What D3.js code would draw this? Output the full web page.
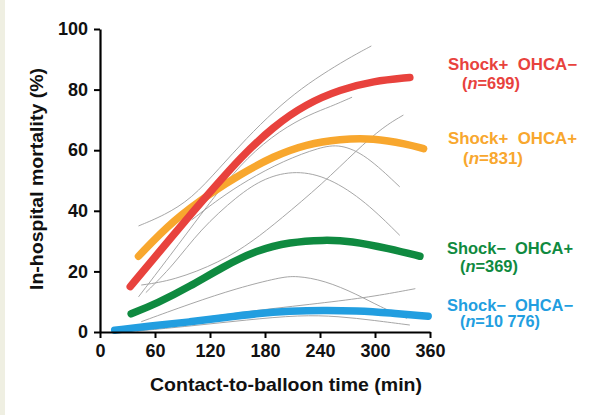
<!DOCTYPE html>
<html><head><meta charset="utf-8">
<script src="https://cdn.jsdelivr.net/npm/d3@7"></script>
<style>
html,body{margin:0;padding:0;background:#fff;}
svg{display:block;font-family:"Liberation Sans",Arial,Helvetica,sans-serif;font-weight:bold;}
</style></head>
<body>
<svg id="chart" width="593" height="415"></svg>
<script>
// ---- data (x = contact-to-balloon time, min; y = in-hospital mortality, %) ----
const xTicks = [0, 60, 120, 180, 240, 300, 360];
const yTicks = [0, 20, 40, 60, 80, 100];

const groupNames = ["Shock+  OHCA−", "Shock+  OHCA+", "Shock−  OHCA+", "Shock−  OHCA−"];
const groupN = ["699", "831", "369", "10 776"];
const groupColors = ["#e8423d", "#f8a72e", "#0f8a40", "#229ee0"];

const redX = [33, 62, 98, 124, 153, 189, 225, 262, 298, 338];
const redY = [15, 25.5, 38.5, 47.5, 57.5, 67.8, 75.3, 80, 82.8, 84];
const orangeX = [42, 80, 124, 153, 189, 225, 262, 298, 335, 353];
const orangeY = [25, 37, 46.5, 52, 58, 62, 63.7, 64, 62, 60.5];
const greenX = [34, 62, 98, 134, 171, 207, 244, 273, 316, 349];
const greenY = [6, 9.4, 15, 21.5, 27, 29.7, 30.4, 30.1, 27.5, 25];
const blueX = [16, 62, 98, 134, 171, 207, 244, 280, 316, 358];
const blueY = [0.6, 2.2, 3.3, 4.7, 6.1, 6.9, 7.2, 7.0, 6.3, 5.2];

// thin grey confidence bands
const ci1X = [42, 70, 100, 130, 160, 190, 220, 250, 275, 296];
const ci1Y = [35, 38.5, 44, 54, 64, 73, 80.5, 86.5, 91, 94.4];
const ci2X = [42, 76, 113, 131, 160, 196, 230, 251, 275];
const ci2Y = [11.6, 25, 40, 47, 57.5, 66.5, 72, 74.3, 77.5];
const ci3X = [45, 80, 131, 167, 196, 243, 280, 309, 331];
const ci3Y = [15.5, 17, 23, 30, 37, 49, 60, 67.7, 71.6];
const ci4X = [50, 80, 109, 150, 180, 214, 250, 290, 327];
const ci4Y = [13, 22, 33.7, 45, 51, 53.4, 51, 43, 31.9];
const ci5X = [100, 130, 160, 200, 240, 262, 290, 327];
const ci5Y = [37, 44, 50, 56.5, 61, 62, 58.5, 47.9];
const ci6X = [45, 100, 150, 196, 214, 245, 280, 305, 335];
const ci6Y = [3.4, 9.5, 14.5, 18, 18.6, 17, 12.5, 8.4, 4.5];
const ci7X = [40, 100, 171, 250, 300, 344];
const ci7Y = [2, 4.2, 7.2, 9.8, 11.8, 14.3];
const ci8X = [40, 100, 160, 218, 260, 300, 338];
const ci8Y = [0.3, 2, 4, 5.6, 5.2, 3.8, 2.3];

const zip = (xs, ys) => xs.map((d, i) => [d, ys[i]]);
const mainSeries = [zip(redX, redY), zip(orangeX, orangeY), zip(greenX, greenY), zip(blueX, blueY)];
const ciSeries = [zip(ci1X, ci1Y), zip(ci2X, ci2Y), zip(ci3X, ci3Y), zip(ci4X, ci4Y),
                  zip(ci5X, ci5Y), zip(ci6X, ci6Y), zip(ci7X, ci7Y), zip(ci8X, ci8Y)];

// ---- drawing ----
const svg = d3.select("#chart");
svg.append("rect").attr("x", 0).attr("y", 0).attr("width", 5).attr("height", 415).attr("fill", "#efefe2");

const x = d3.scaleLinear().domain([0, 360]).range([100, 430]);
const y = d3.scaleLinear().domain([0, 100]).range([332, 29]);

const line = d3.line().x(d => x(d[0])).y(d => y(d[1])).curve(d3.curveBasis);

svg.append("g").selectAll("path").data(ciSeries).join("path")
  .attr("d", line).attr("fill", "none").attr("stroke", "#9c9c9c").attr("stroke-width", 0.9);

// draw order: blue, green, orange, red on top
const order = [3, 2, 1, 0];
svg.append("g").selectAll("path").data(order).join("path")
  .attr("d", i => line(mainSeries[i])).attr("fill", "none")
  .attr("stroke", i => groupColors[i]).attr("stroke-width", 7.5)
  .attr("stroke-linecap", "round");

// axes
const xAxis = svg.append("g").attr("transform", `translate(0,${y(0)})`)
  .call(d3.axisBottom(x).tickValues(xTicks).tickSize(6).tickSizeOuter(0).tickPadding(6));
const yAxis = svg.append("g").attr("transform", `translate(${x(0)},0)`)
  .call(d3.axisLeft(y).tickValues(yTicks).tickSize(6).tickSizeOuter(0).tickPadding(6));
[xAxis, yAxis].forEach(g => {
  g.selectAll(".domain").attr("stroke", "#000").attr("stroke-width", 2.2);
  g.selectAll(".tick line").attr("stroke", "#000").attr("stroke-width", 2);
  g.selectAll(".tick text").attr("fill", "#111").style("font-size", "18px").style("font-weight", "bold")
    .style("font-family", '"Liberation Sans",Arial,sans-serif');
});

// axis titles
svg.append("text").attr("x", 286).attr("y", 391).attr("text-anchor", "middle")
  .attr("textLength", 272).attr("lengthAdjust", "spacingAndGlyphs")
  .style("font-size", "19px").attr("fill", "#111").text("Contact-to-balloon time (min)");
svg.append("text").attr("transform", "translate(43,179) rotate(-90)").attr("text-anchor", "middle")
  .attr("textLength", 222).attr("lengthAdjust", "spacingAndGlyphs")
  .style("font-size", "18px").attr("fill", "#111").text("In-hospital mortality (%)");

// legend labels
const labelPos = [
  {x1: 448, y1: 70, w1: 129, x2: 462, y2: 89, w2: 58},
  {x1: 448, y1: 144, w1: 129, x2: 463, y2: 164, w2: 60},
  {x1: 447, y1: 254, w1: 126, x2: 460, y2: 271.5, w2: 58},
  {x1: 447, y1: 310.5, w1: 126, x2: 460, y2: 327, w2: 80}
];
groupNames.forEach((name, i) => {
  const p = labelPos[i];
  svg.append("text").attr("x", p.x1).attr("y", p.y1).attr("fill", groupColors[i])
    .attr("textLength", p.w1).attr("lengthAdjust", "spacingAndGlyphs")
    .attr("xml:space", "preserve").style("white-space", "pre")
    .style("font-size", "16px").text(name);
  const t = svg.append("text").attr("x", p.x2).attr("y", p.y2).attr("fill", groupColors[i])
    .attr("textLength", p.w2).attr("lengthAdjust", "spacingAndGlyphs")
    .style("font-size", "16px");
  t.append("tspan").text("(");
  t.append("tspan").style("font-style", "italic").text("n");
  t.append("tspan").text("=" + groupN[i] + ")");
});
</script>
</body></html>
